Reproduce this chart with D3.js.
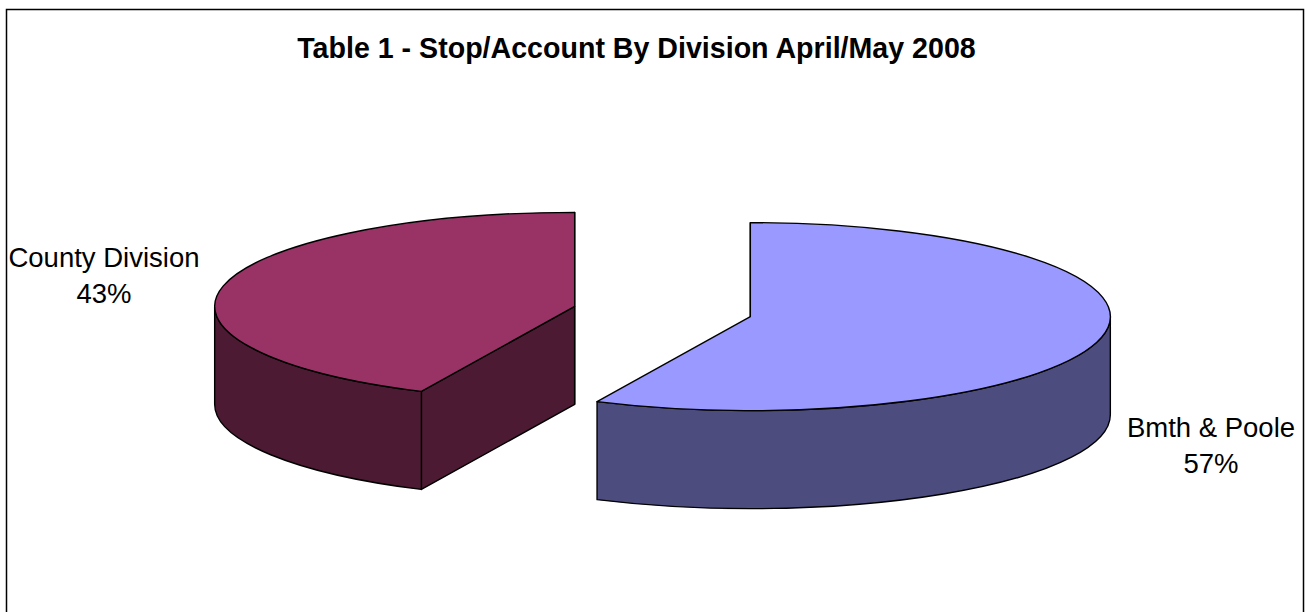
<!DOCTYPE html>
<html lang="en">
<head>
    <meta charset="utf-8">
    <!-- Load d3.js -->
    <script src="https://d3js.org/d3.v7.min.js"></script>
    <style>
        body { margin: 0; background: white; }
    </style>
</head>
<body>
    <div id="my_dataviz"></div>

    <script>
        // chart data
        const categories = ["Bmth & Poole", "County Division"];
        const values = [57, 43];
        const percentLabels = ["57%", "43%"];
        const chartTitle = "Table 1 - Stop/Account By Division April/May 2008";

        // colours per slice (top face, side faces)
        const topColors = ["#9999FF", "#993366"];
        const sideColors = ["#4C4C7E", "#4C1A32"];

        const width = 1307, height = 612;

        // 3D pie geometry
        const cx = 662.5, cy = 311.5;   // centre of the un-exploded pie
        const rx = 360, ry = 94;        // ellipse radii of the top face
        const depth = 98;               // thickness of the pie
        const explode = 90;             // how far each slice is pulled out

        const svg = d3.select("#my_dataviz")
            .append("svg")
            .attr("width", width)
            .attr("height", height)
            .style("font-family", "Arial, 'Liberation Sans', sans-serif");

        // chart area border
        svg.append("rect")
            .attr("x", 6.5)
            .attr("y", 9.5)
            .attr("width", 1297)
            .attr("height", 640)
            .attr("fill", "white")
            .attr("stroke", "black")
            .attr("stroke-width", 1.5);

        // title
        svg.append("text")
            .attr("x", 636.5)
            .attr("y", 58)
            .attr("text-anchor", "middle")
            .style("font-size", "28.6px")
            .style("font-weight", "bold")
            .text(chartTitle);

        // pie layout, starting at 12 o'clock going clockwise (same as d3's default)
        const pie = d3.pie().sort(null).startAngle(0).endAngle(2 * Math.PI);
        const arcs = pie(values);

        // point on the top ellipse for an angle
        function pt(c, a, dy = 0) {
            return [c[0] + rx * Math.sin(a), c[1] - ry * Math.cos(a) + dy];
        }

        function ellArc(p, large, sweep) {
            return `A${rx},${ry} 0 ${large} ${sweep} ${p[0]},${p[1]}`;
        }

        const slices = svg.append("g");

        arcs.forEach(function (d, i) {
            const mid = (d.startAngle + d.endAngle) / 2;
            // exploded centre of the slice
            const c = [cx + explode * Math.sin(mid), cy - explode * Math.cos(mid) * ry / rx];
            const a0 = d.startAngle, a1 = d.endAngle;
            const g = slices.append("g")
                .attr("stroke", "black")
                .attr("stroke-width", 1.4)
                .attr("stroke-linejoin", "round");

            // radial faces (only the ones facing the viewer)
            const faces = [];
            if (Math.sin(a0) <= 1e-6) faces.push(a0);
            if (Math.sin(a1) >= -1e-6) faces.push(a1);
            faces.forEach(function (a) {
                const p = pt(c, a), pb = pt(c, a, depth);
                g.append("path")
                    .attr("d", `M${c[0]},${c[1]} L${p[0]},${p[1]} L${pb[0]},${pb[1]} L${c[0]},${c[1] + depth} Z`)
                    .attr("fill", sideColors[i]);
            });

            // outer wall, front half only
            const s = Math.max(a0, Math.PI / 2), e = Math.min(a1, 3 * Math.PI / 2);
            if (e > s) {
                const ps = pt(c, s), pe = pt(c, e);
                const pbs = pt(c, s, depth), pbe = pt(c, e, depth);
                g.append("path")
                    .attr("d", `M${ps[0]},${ps[1]} ${ellArc(pe, 0, 1)} L${pbe[0]},${pbe[1]} ${ellArc(pbs, 0, 0)} Z`)
                    .attr("fill", sideColors[i]);
            }

            // top face
            const p0 = pt(c, a0), p1 = pt(c, a1);
            const large = (a1 - a0) > Math.PI ? 1 : 0;
            g.append("path")
                .attr("d", `M${c[0]},${c[1]} L${p0[0]},${p0[1]} ${ellArc(p1, large, 1)} Z`)
                .attr("fill", topColors[i]);
        });

        // data labels: category name and percentage
        const labelPos = [[1211, 437], [104, 267]];
        const labels = svg.append("g")
            .style("font-size", "27.5px")
            .attr("text-anchor", "middle");

        categories.forEach(function (name, i) {
            const t = labels.append("text")
                .attr("x", labelPos[i][0])
                .attr("y", labelPos[i][1]);
            t.append("tspan").attr("x", labelPos[i][0]).text(name);
            t.append("tspan").attr("x", labelPos[i][0]).attr("dy", 35.5).text(percentLabels[i]);
        });
    </script>
</body>
</html>
